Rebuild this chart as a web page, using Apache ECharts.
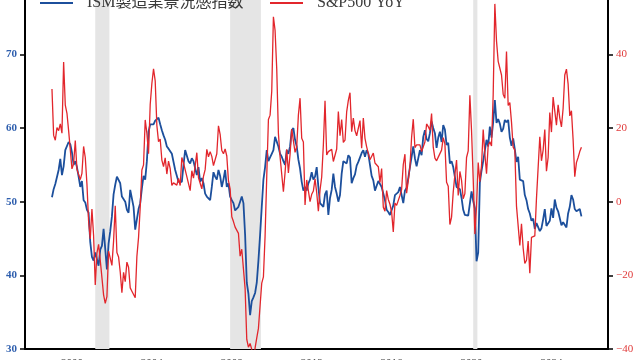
<!DOCTYPE html>
<html>
<head>
<meta charset="utf-8">
<script src="https://cdn.jsdelivr.net/npm/echarts@6.0.0/dist/echarts.min.js"></script>
<style>html,body{margin:0;padding:0;background:#fff}#c{width:640px;height:360px}</style>
</head>
<body>
<div id="c"></div>
<script>
// ---- data (monthly, starting Jan 1999) ----
const startYear = 1999;
const ismName = 'ISM製造業景況感指数';
const spxName = 'S&P500 YoY';
const ismValues = [
  50.6, 51.7, 52.4, 52.3, 54.3, 55.8, 53.6, 54.8, 57.0, 57.2, 58.1, 57.8, // 1999
  56.7, 55.0, 55.5, 54.7, 53.4, 52.0, 52.8, 50.2, 49.9, 48.9, 48.5, 44.5, // 2000
  42.5, 42.0, 43.1, 43.2, 41.3, 43.5, 44.0, 46.3, 46.2, 40.8, 44.3, 46.0, // 2001
  48.0, 51.0, 52.3, 53.4, 53.6, 52.5, 50.7, 50.5, 50.0, 48.9, 48.5, 51.6, // 2002
  51.4, 49.3, 46.2, 46.2, 49.0, 49.8, 51.8, 53.5, 53.0, 55.5, 59.5, 60.5, // 2003
  60.7, 60.5, 61.0, 61.2, 61.4, 60.5, 59.7, 59.0, 58.4, 57.5, 57.2, 57.0, // 2004
  56.5, 56.3, 54.3, 54.5, 52.7, 52.5, 52.7, 55.0, 57.0, 57.2, 55.5, 55.2, // 2005
  55.9, 55.5, 55.7, 53.6, 54.7, 52.7, 53.2, 52.5, 51.1, 50.7, 50.5, 50.2, // 2006
  52.0, 54.0, 53.4, 53.0, 54.3, 53.5, 52.0, 53.0, 54.3, 52.0, 52.5, 50.7, // 2007
  50.2, 49.8, 48.8, 48.6, 49.3, 50.0, 50.7, 49.8, 45.5, 39.0, 37.5, 34.6, // 2008
  36.5, 37.0, 37.6, 39.0, 42.0, 45.5, 49.3, 53.0, 54.7, 57.0, 55.5, 56.0, // 2009
  56.5, 57.0, 58.8, 59.0, 57.5, 56.5, 56.1, 55.5, 55.0, 57.0, 56.5, 57.5, // 2010
  59.7, 60.0, 58.4, 57.5, 55.7, 54.5, 52.7, 51.5, 52.0, 51.5, 52.5, 53.0, // 2011
  54.0, 53.0, 53.4, 54.7, 52.0, 49.8, 49.6, 49.3, 51.0, 51.5, 48.2, 50.5, // 2012
  51.6, 53.8, 52.0, 51.1, 50.0, 50.9, 53.8, 55.5, 55.7, 55.2, 56.3, 56.0, // 2013
  52.5, 53.2, 53.7, 54.9, 55.4, 55.3, 56.6, 57.0, 56.1, 57.0, 56.5, 55.0, // 2014
  53.5, 52.9, 51.5, 51.5, 52.8, 53.0, 52.0, 51.1, 50.2, 48.9, 48.6, 48.2, // 2015
  48.4, 49.5, 50.9, 50.8, 51.3, 52.0, 52.2, 49.8, 51.5, 51.9, 53.2, 54.7, // 2016
  56.1, 57.5, 55.9, 54.8, 54.9, 57.0, 56.3, 58.8, 59.7, 58.5, 58.2, 59.3, // 2017
  60.9, 60.0, 59.3, 57.3, 58.7, 59.5, 58.1, 60.4, 59.8, 57.7, 58.0, 55.2, // 2018
  55.5, 54.7, 54.5, 52.0, 52.1, 51.7, 50.5, 48.9, 48.2, 48.3, 48.1, 48.1, // 2019
  51.4, 50.1, 49.1, 41.9, 43.1, 52.6, 54.2, 55.5, 55.4, 58.4, 57.5, 60.2, // 2020
  58.7, 60.8, 63.8, 60.7, 61.2, 60.6, 59.5, 59.9, 61.1, 60.8, 61.1, 58.7, // 2021
  57.6, 58.6, 57.1, 55.4, 56.1, 53.0, 52.8, 52.8, 50.9, 50.2, 49.0, 48.4, // 2022
  47.4, 47.7, 46.3, 47.1, 46.9, 46.0, 46.4, 47.6, 49.0, 46.7, 46.7, 47.4, // 2023
  49.1, 47.8, 50.3, 49.2, 48.7, 48.5, 46.8, 47.2, 47.2, 46.5, 48.4, 49.3, // 2024
  50.9, 50.3, 49.0, 48.7, 48.5, 49.0, 48.0                                // 2025
];
const spxYoY = [
  30.6, 18.0, 16.7, 20.1, 19.3, 21.1, 18.6, 37.9, 26.2, 24.0, 19.3, 19.5,
  8.9, 10.3, 16.6, 8.8, 9.1, 6.0, 7.7, 15.0, 12.0, 4.8, -5.3, -10.1,
  -2.0, -9.2, -22.6, -14.0, -11.6, -15.9, -15.4, -25.3, -27.6, -25.8, -13.4, -13.0,
  -17.3, -10.7, -1.1, -13.8, -15.0, -19.1, -24.7, -19.2, -21.7, -16.4, -17.8, -23.4,
  -24.3, -24.0, -26.1, -14.9, -9.7, -1.5, 8.6, 10.0, 22.2, 18.6, 13.0, 26.4,
  32.1, 36.1, 32.8, 20.7, 16.3, 17.0, 11.3, 9.5, 11.9, 7.5, 11.0, 9.0,
  4.4, 5.1, 4.9, 4.5, 6.3, 4.4, 12.0, 10.5, 10.2, 6.8, 6.4, 3.0,
  8.4, 6.4, 9.7, 13.3, 6.5, 6.6, 3.5, 6.9, 8.7, 14.2, 12.2, 13.6,
  12.3, 9.8, 9.7, 13.0, 20.6, 18.3, 13.9, 13.0, 14.3, 12.4, 5.7, 3.5,
  -4.1, -5.4, -6.9, -6.5, -8.6, -14.8, -12.9, -13.0, -23.6, -37.4, -39.5, -38.5,
  -40.1, -44.8, -39.7, -37.0, -34.4, -28.2, -22.1, -20.4, -9.3, 6.9, 22.3, 23.5,
  30.0, 50.2, 46.5, 36.0, 18.5, 12.2, 11.7, 2.7, 7.9, 14.2, 7.8, 12.8,
  19.7, 20.2, 13.4, 14.9, 23.5, 28.1, 17.2, 16.2, -0.9, 5.9, 5.6, 0.0,
  2.0, 2.9, 6.2, 2.5, -2.6, 3.1, 6.7, 15.4, 27.4, 12.7, 13.6, 13.4,
  14.2, 10.9, 11.4, 14.3, 24.5, 17.9, 22.3, 16.1, 16.7, 24.4, 27.5, 29.6,
  19.0, 22.7, 19.3, 17.9, 18.0, 22.0, 14.5, 22.7, 17.2, 14.9, 14.5, 11.4,
  11.9, 13.2, 10.5, 10.7, 9.5, 5.2, 9.0, -1.5, -2.6, 3.0, 0.6, -0.7,
  -2.8, -8.2, -0.4, -1.0, -0.5, 1.7, 3.3, 10.1, 12.9, 2.3, 5.7, 9.5,
  17.5, 22.4, 14.7, 15.4, 15.0, 15.4, 13.6, 13.9, 16.2, 21.1, 20.4, 19.4,
  23.9, 14.8, 11.8, 11.1, 12.1, 12.2, 14.0, 17.4, 15.7, 5.3, 4.2, -6.2,
  -4.2, 2.6, 7.3, 11.3, 1.7, 8.2, 5.8, 0.8, 2.2, 12.0, 13.8, 28.9,
  19.3, 6.1, -8.8, -1.2, 10.6, 5.4, 9.8, 19.6, 13.0, 7.6, 15.3, 16.3,
  15.1, 29.0, 53.7, 43.6, 38.1, 38.6, 34.4, 29.2, 28.1, 40.8, 26.1, 26.9,
  21.6, 14.8, 14.0, -1.2, -1.7, -11.9, -6.0, -12.6, -16.8, -15.9, -10.7, -19.4,
  -9.7, -9.2, -9.3, 0.9, 1.2, 17.6, 11.1, 14.0, 19.6, 8.3, 12.0, 24.2,
  18.9, 28.4, 27.9, 20.8, 26.3, 22.7, 20.3, 25.3, 34.4, 36.0, 32.0, 23.3,
  24.7, 16.9, 6.8, 10.6, 12.0, 13.6, 14.8
];
const xTickYears = [2000, 2004, 2008, 2012, 2016, 2020, 2024];
const recessions = [[2001, 3, 2001, 11], [2007, 12, 2009, 6], [2020, 2, 2020, 4]];

// ---- build ----
const toT = i => startYear + i / 12;
const ismData = ismValues.map((v, i) => [toT(i), v]);
const spxData = spxYoY.map((v, i) => [toT(i), v]);
const areas = recessions.map(r => [
  { xAxis: r[0] + (r[1] - 1) / 12 },
  { xAxis: r[2] + (r[3] - 0.5) / 12 }
]);

const serif = "'Liberation Serif', 'DejaVu Serif', serif";
const legendFont = "'Liberation Serif', 'Noto Sans CJK JP', serif";
const ismColor = '#1c4f9c';
const spxColor = '#e2262c';

const chart = echarts.init(document.getElementById('c'), null, { renderer: 'canvas' });
chart.setOption({
  animation: false,
  backgroundColor: '#fff',
  grid: { left: 25, right: 32, top: -19.3, bottom: 11, containLabel: false, outerBoundsMode: 'none' },
  legend: [
    {
      left: 40, top: -7, padding: 0, itemWidth: 33, itemHeight: 2, icon: 'rect',
      data: [ismName],
      textStyle: { fontSize: 16, color: '#3a3a3a', fontFamily: legendFont, padding: [0, 0, 0, 9], lineHeight: 20 }
    },
    {
      left: 270, top: -7, padding: 0, itemWidth: 33, itemHeight: 2, icon: 'rect',
      data: [spxName],
      textStyle: { fontSize: 16, color: '#3a3a3a', fontFamily: legendFont, padding: [0, 0, 0, 9], lineHeight: 20 }
    }
  ],
  xAxis: {
    type: 'value', min: 1997.65, max: 2026.83,
    axisLine: { show: true, onZero: false, lineStyle: { color: '#000', width: 2 } },
    axisTick: { show: false },
    splitLine: { show: false },
    axisLabel: {
      customValues: xTickYears, color: '#333', fontSize: 11, margin: 9,
      fontFamily: serif, formatter: v => String(Math.round(v))
    }
  },
  yAxis: [
    {
      type: 'value', position: 'left', min: 30, max: 80, interval: 10,
      axisLine: { show: true, onZero: false, lineStyle: { color: '#000', width: 2 } },
      axisTick: { show: true, length: 5, lineStyle: { color: '#000', width: 1.5 } },
      splitLine: { show: false },
      axisLabel: { color: '#2f5fae', fontSize: 11, fontWeight: 'bold', fontFamily: serif, margin: 8 }
    },
    {
      type: 'value', position: 'right', min: -40, max: 60, interval: 20,
      axisLine: { show: true, onZero: false, lineStyle: { color: '#000', width: 2 } },
      axisTick: { show: true, length: 5, lineStyle: { color: '#000', width: 1.5 } },
      splitLine: { show: false },
      axisLabel: {
        color: '#e03a3a', fontSize: 11, fontFamily: serif, margin: 8,
        formatter: v => (v < 0 ? '\u2212' + Math.abs(v) : String(v))
      }
    }
  ],
  series: [
    {
      name: ismName, type: 'line', yAxisIndex: 0, data: ismData,
      showSymbol: false, symbol: 'none',
      lineStyle: { color: ismColor, width: 1.8 }, itemStyle: { color: ismColor },
      markArea: { silent: true, itemStyle: { color: '#e5e5e5' }, data: areas }
    },
    {
      name: spxName, type: 'line', yAxisIndex: 1, data: spxData,
      showSymbol: false, symbol: 'none',
      lineStyle: { color: spxColor, width: 1.3 }, itemStyle: { color: spxColor }
    }
  ]
});
</script>
</body>
</html>
